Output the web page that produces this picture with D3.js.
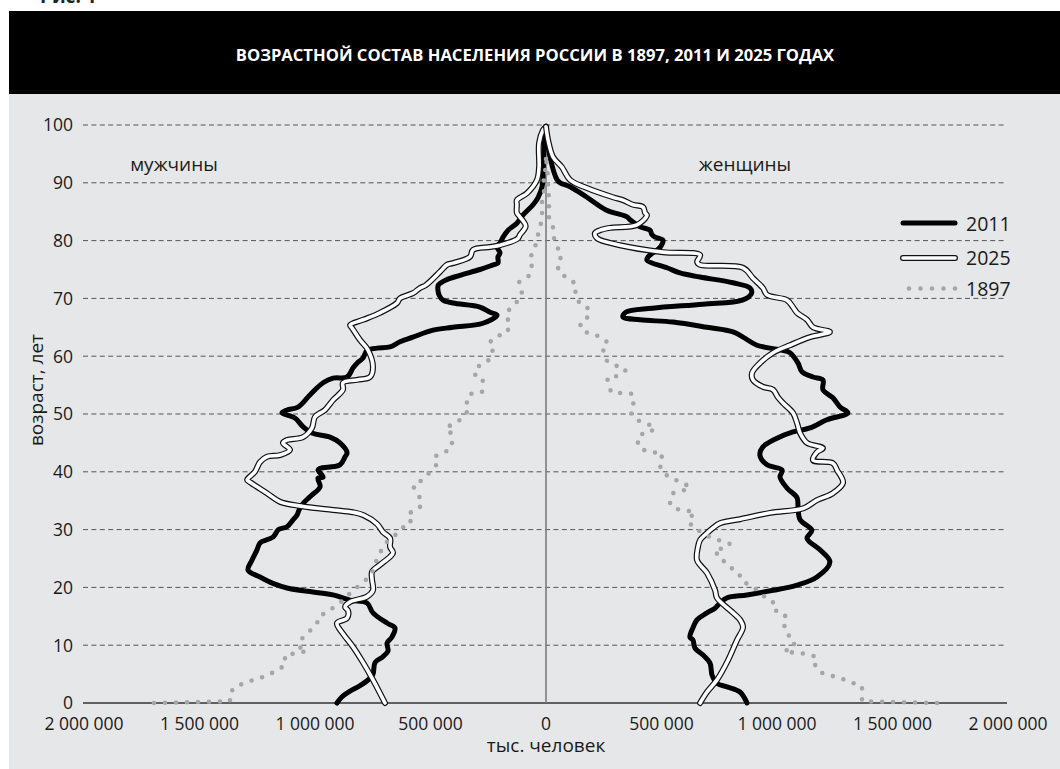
<!DOCTYPE html>
<html><head><meta charset="utf-8">
<script src="https://cdn.jsdelivr.net/npm/d3@7"></script>
<style>
body{margin:0;background:#fff;}
svg{display:block;font-family:"Open Sans","Noto Sans",sans-serif;}
</style></head><body>
<svg id="c" width="1060" height="769"></svg>
<script>
// ---- data: [age, persons (thousands on the drawing scale)] ----
const title = "ВОЗРАСТНОЙ СОСТАВ НАСЕЛЕНИЯ РОССИИ В 1897, 2011 И 2025 ГОДАХ";
const ageTicks = [0,10,20,30,40,50,60,70,80,90,100];
const popTicks = [-2000000,-1500000,-1000000,-500000,0,500000,1000000,1500000,2000000];
const seriesNames = ["2011","2025","1897"];

const male2011 = [[0,905],[1,885],[2,850],[3,805],[4,770],[5,749],[7,740],[8,706],[9,684],[10.4,688],[11.4,667],[13,654],[13.8,687],[15.6,749],[17.3,775],[17.8,848],[18.7,922],[19.2,1009],[19.9,1121],[20.7,1182],[21.8,1238],[23,1290],[24.7,1273],[26.5,1251],[27.7,1238],[28.7,1182],[30,1158],[30.5,1121],[31.7,1095],[32.5,1078],[34,1062],[35.7,1022],[37.4,978],[38.9,987],[39.1,965],[40.3,987],[40.6,978],[41.2,892],[42.6,870],[43.3,861],[45,892],[46,935],[46.7,1013],[47.8,1052],[49.3,1087],[50.2,1143],[50.7,1121],[51.2,1074],[53.3,1022],[55.4,965],[56.2,922],[56.4,861],[58,835],[58.8,818],[59.7,792],[61,775],[61.4,732],[61.6,675],[62.5,632],[63.3,576],[64.5,489],[65,403],[65.7,273],[67.1,212],[67.6,242],[68.5,286],[69.2,403],[69.7,446],[70.5,462],[71.5,468],[72.3,466],[73.2,432],[74,372],[75,286],[75.8,229],[76.1,208],[77.2,208],[77.9,199],[78.9,212],[79.6,199],[80.6,186],[81.8,164],[83,126],[84.4,100],[86.2,56],[87.4,35],[89.3,17],[91,13],[95.7,9],[98,4],[99.3,1]];

const female2011 = [[0,870],[1.9,840],[2.8,784],[3.4,740],[4.8,719],[6.9,710],[8.3,680],[9.5,645],[10.9,636],[11.4,623],[13,636],[14.4,654],[15.6,697],[16.4,732],[17.3,753],[18.2,784],[18.7,870],[19.5,983],[20.4,1087],[21.8,1173],[24.4,1229],[26.5,1186],[28.5,1130],[29.9,1151],[31.7,1100],[34,1091],[35.5,1087],[37.2,1043],[39.1,1013],[40.3,1022],[41.2,957],[42.9,926],[44.3,939],[45.8,1000],[46.9,1069],[47.6,1143],[49,1216],[50.2,1307],[51.2,1273],[52.8,1242],[54.2,1199],[55.9,1199],[56.4,1156],[57.3,1108],[58.8,1091],[60.6,1056],[61.1,1013],[61.9,913],[63.3,853],[64.2,810],[65,697],[65.9,550],[66.3,407],[66.8,333],[67.6,345],[68.3,460],[69,680],[69.7,850],[70.9,890],[71.8,883],[72.7,810],[73.7,667],[74.4,580],[75.3,524],[76.6,437],[77.2,442],[78.9,495],[80.1,506],[80.6,472],[81,459],[81.8,450],[82.4,407],[83.6,364],[84.1,351],[85.3,260],[87.5,177],[89.3,104],[90,61],[90.5,48],[94.5,17],[97,8],[99.3,1]];

const male2025 = [[0,697],[4,749],[7,792],[9.7,835],[12,879],[13.8,905],[14.7,861],[16,857],[16.6,870],[17.5,848],[18.4,775],[19.5,749],[21.3,753],[22.7,753],[23.9,719],[25.3,675],[26,662],[27,675],[28.5,675],[29.6,706],[31,732],[32.5,790],[33,835],[33.4,922],[34,1050],[34.8,1151],[36.3,1208],[38.2,1281],[38.6,1294],[40,1260],[41.7,1238],[42.6,1208],[42.9,1151],[43.8,1108],[45,1139],[45.5,1121],[46,1052],[47.6,1013],[49.5,1000],[50.7,957],[52.4,922],[54.2,879],[55.4,879],[55.9,818],[56.4,762],[58.1,749],[61.1,771],[62.8,805],[64.9,840],[65.4,848],[66.3,792],[67.5,719],[69.2,645],[70,632],[70.9,576],[71.8,545],[72.3,520],[74.6,459],[75.8,429],[76.1,403],[77.2,329],[78.4,316],[78.9,242],[79.2,199],[80.4,121],[81,113],[82.5,88],[84.1,113],[84.8,126],[86.2,126],[87,126],[88.2,82],[90.5,39],[92.7,30],[96.9,30],[99.1,13],[99.7,0]];

const female2025 = [[0,667],[1.9,697],[4,740],[7.4,788],[10.9,827],[13.1,853],[14.4,840],[15.6,810],[18.2,740],[19.5,732],[22.5,697],[24.7,654],[27,658],[28.2,667],[29.4,697],[30.3,723],[31.1,753],[31.8,840],[32.9,970],[33.7,1115],[35.1,1173],[36.3,1242],[38.1,1286],[40.3,1260],[41.5,1242],[42,1156],[43.4,1173],[44.1,1199],[45,1130],[46.7,1100],[48.4,1087],[50.2,1069],[51.9,1026],[52.9,1004],[54.2,983],[54.7,939],[55.9,896],[57.1,892],[58.8,926],[60.6,983],[61.9,1056],[63.3,1143],[64.2,1229],[65,1156],[66.3,1130],[67.5,1087],[68.5,1069],[69.7,1043],[70.6,957],[71.8,939],[73.5,896],[75.3,853],[75.8,667],[76.3,654],[77.5,667],[78,506],[79.2,320],[80.4,221],[81.3,212],[81.8,234],[82.2,277],[82.7,394],[84.4,437],[84.8,429],[85.8,420],[86.2,377],[87,333],[87.5,290],[89.1,177],[90.5,104],[92.7,69],[94.5,30],[97.4,9],[99.7,0]];

const male1897 = [[0,1697],[0.3,1368],[1.8,1368],[2.9,1342],[3.6,1294],[4.2,1251],[4.7,1208],[5.6,1169],[6.5,1130],[8.3,1130],[8.6,1082],[9,1035],[9.7,1069],[11,1060],[12.3,1026],[13.8,991],[15,983],[15.8,944],[17,905],[18,870],[19.4,840],[20.4,805],[21.8,766],[23.2,745],[25,732],[26.6,710],[27.7,693],[29,654],[30.3,623],[31.1,584],[32.8,597],[33.4,558],[34.3,537],[35.4,545],[36.5,558],[37.5,576],[38.7,532],[40,502],[41.3,472],[42.7,480],[43.4,437],[44.3,407],[46.5,407],[47.6,433],[48.4,398],[49.3,359],[50.9,333],[52.4,346],[53.5,325],[53.8,277],[56.2,273],[56.9,312],[58.3,290],[59.2,251],[60.7,229],[62.3,247],[63.5,212],[64,169],[65.6,156],[67,173],[68.3,156],[69.4,126],[70.9,104],[72.8,117],[73.9,74],[75.4,61],[77,69],[78.7,48],[80.4,39],[82.2,26],[83.9,17],[87.2,17],[89.3,4],[91,13],[92.6,0],[95,0]];

const female1897 = [[0,1693],[0.3,1368],[2.9,1368],[3.5,1325],[4.2,1281],[4.7,1238],[5.2,1195],[6.4,1165],[8,1169],[8.5,1126],[8.7,1078],[8.9,1030],[9.7,1074],[10.9,1074],[12.1,1039],[13.7,1030],[15,1039],[15.8,996],[17.1,1000],[17.8,961],[19,931],[20.2,892],[21.1,848],[22.5,835],[23.5,797],[24.4,771],[25.4,762],[26.1,727],[26.8,762],[27.5,797],[28.1,753],[28.7,710],[29.6,671],[30.3,636],[31.7,615],[33,645],[33.4,597],[33.6,554],[34.6,537],[35.5,550],[36.3,550],[36.7,593],[37.4,623],[38.4,576],[38.9,537],[40.1,502],[41.5,489],[43.1,506],[43.4,463],[43.8,420],[44.5,398],[45.5,398],[46.5,407],[46.7,450],[47.8,472],[48.4,429],[49.1,385],[50.5,364],[52.1,381],[53.5,372],[53.6,329],[53.8,281],[55.2,273],[56.2,264],[56.6,312],[57.6,346],[58.3,307],[59.2,264],[60.9,247],[62.3,268],[63.3,242],[63.8,199],[64.4,156],[65.7,147],[66.8,182],[68.2,186],[69,147],[70.8,126],[72.3,132],[73.5,100],[74.2,61],[75.8,48],[77.5,69],[78.9,48],[80.4,35],[82.4,30],[83.9,13],[87.4,13],[89.3,9],[91,9],[92.7,4],[94.5,0]];

// ---- drawing ----
const svg = d3.select("#c");
const W = 1060, H = 769;
svg.append("rect").attr("x",9).attr("y",94).attr("width",W-9).attr("height",H-94).attr("fill","#e6e7e8");
svg.append("rect").attr("x",9).attr("y",11).attr("width",W-9).attr("height",83).attr("fill","#000");
svg.append("text").attr("x",40).attr("y",3).attr("font-size",19).attr("font-weight",700).attr("fill","#222").text("Рис. 1");
svg.append("text").attr("x",535).attr("y",61).attr("text-anchor","middle").attr("fill","#fff")
  .attr("font-size",16.6).attr("font-weight",700).text(title);

const x = d3.scaleLinear().domain([-2000000,2000000]).range([84,1008]);
const y = d3.scaleLinear().domain([0,100]).range([703,125]);

// gridlines
const g = svg.append("g");
g.selectAll("line.grid").data(ageTicks.filter(a=>a>0)).join("line")
  .attr("x1",83).attr("x2",1007).attr("y1",d=>y(d)).attr("y2",d=>y(d))
  .attr("stroke","#555").attr("stroke-width",1).attr("stroke-dasharray","5,3.4");
g.append("line").attr("x1",83).attr("x2",1007).attr("y1",y(0)).attr("y2",y(0))
  .attr("stroke","#333").attr("stroke-width",1.3);
g.append("line").attr("x1",x(0)).attr("x2",x(0)).attr("y1",y(0)).attr("y2",y(100))
  .attr("stroke","#7d7d7d").attr("stroke-width",1.6);

// axes labels
const fmt = v => d3.format(",")(Math.abs(v)).replace(/,/g," ");
svg.append("g").selectAll("text").data(ageTicks).join("text")
  .attr("x",73).attr("y",d=>y(d)).attr("dy","0.36em").attr("text-anchor","end")
  .attr("font-size",17.5).attr("fill","#1a1a1a").text(d=>d);
svg.append("g").selectAll("text").data(popTicks).join("text")
  .attr("x",d=>x(d)).attr("y",730).attr("text-anchor","middle")
  .attr("font-size",17.5).attr("fill","#1a1a1a").text(fmt);
svg.append("text").attr("x",546).attr("y",752).attr("text-anchor","middle")
  .attr("font-size",19).attr("fill","#1a1a1a").text("тыс. человек");
svg.append("text").attr("transform","translate(43,390) rotate(-90)").attr("text-anchor","middle")
  .attr("font-size",19).attr("fill","#1a1a1a").text("возраст, лет");
svg.append("text").attr("x",174).attr("y",171).attr("text-anchor","middle")
  .attr("font-size",19).attr("fill","#1a1a1a").text("мужчины");
svg.append("text").attr("x",745).attr("y",171).attr("text-anchor","middle")
  .attr("font-size",19).attr("fill","#1a1a1a").text("женщины");

// lines
const mk = (sign, curve) => d3.line().x(d=>x(sign*d[1]*1000)).y(d=>y(d[0])).curve(curve);
const smooth = d3.curveCatmullRom.alpha(0.5);
const lines = svg.append("g").attr("fill","none").attr("stroke-linejoin","round").attr("stroke-linecap","round");
[[male2011,-1],[female2011,1]].forEach(([d,s])=>{
  lines.append("path").attr("d",mk(s,smooth)(d)).attr("stroke","#000").attr("stroke-width",5);
});
[[male2025,-1],[female2025,1]].forEach(([d,s])=>{
  lines.append("path").attr("d",mk(s,smooth)(d)).attr("stroke","#111").attr("stroke-width",6);
  lines.append("path").attr("d",mk(s,smooth)(d)).attr("stroke","#fff").attr("stroke-width",3.6);
});
[[male1897,-1],[female1897,1]].forEach(([d,s])=>{
  lines.append("path").attr("d",mk(s,d3.curveLinear)(d)).attr("stroke","#a5a6a8")
    .attr("stroke-width",4.6).attr("stroke-dasharray","0,11");
});

// legend
const lg = svg.append("g").attr("fill","none").attr("stroke-linecap","round");
lg.append("line").attr("x1",903).attr("x2",955).attr("y1",223).attr("y2",223).attr("stroke","#000").attr("stroke-width",5);
lg.append("line").attr("x1",903).attr("x2",955).attr("y1",258).attr("y2",258).attr("stroke","#111").attr("stroke-width",6);
lg.append("line").attr("x1",903).attr("x2",955).attr("y1",258).attr("y2",258).attr("stroke","#fff").attr("stroke-width",3.6);
lg.append("line").attr("x1",909).attr("x2",955.1).attr("y1",288.5).attr("y2",288.5).attr("stroke","#a5a6a8").attr("stroke-width",4.6).attr("stroke-dasharray","0,11.5");
svg.append("g").selectAll("text").data(seriesNames).join("text")
  .attr("x",966).attr("y",(d,i)=>[230.5,264.5,295.5][i]).attr("font-size",19.5).attr("fill","#1a1a1a").text(d=>d);
</script>
</body></html>
